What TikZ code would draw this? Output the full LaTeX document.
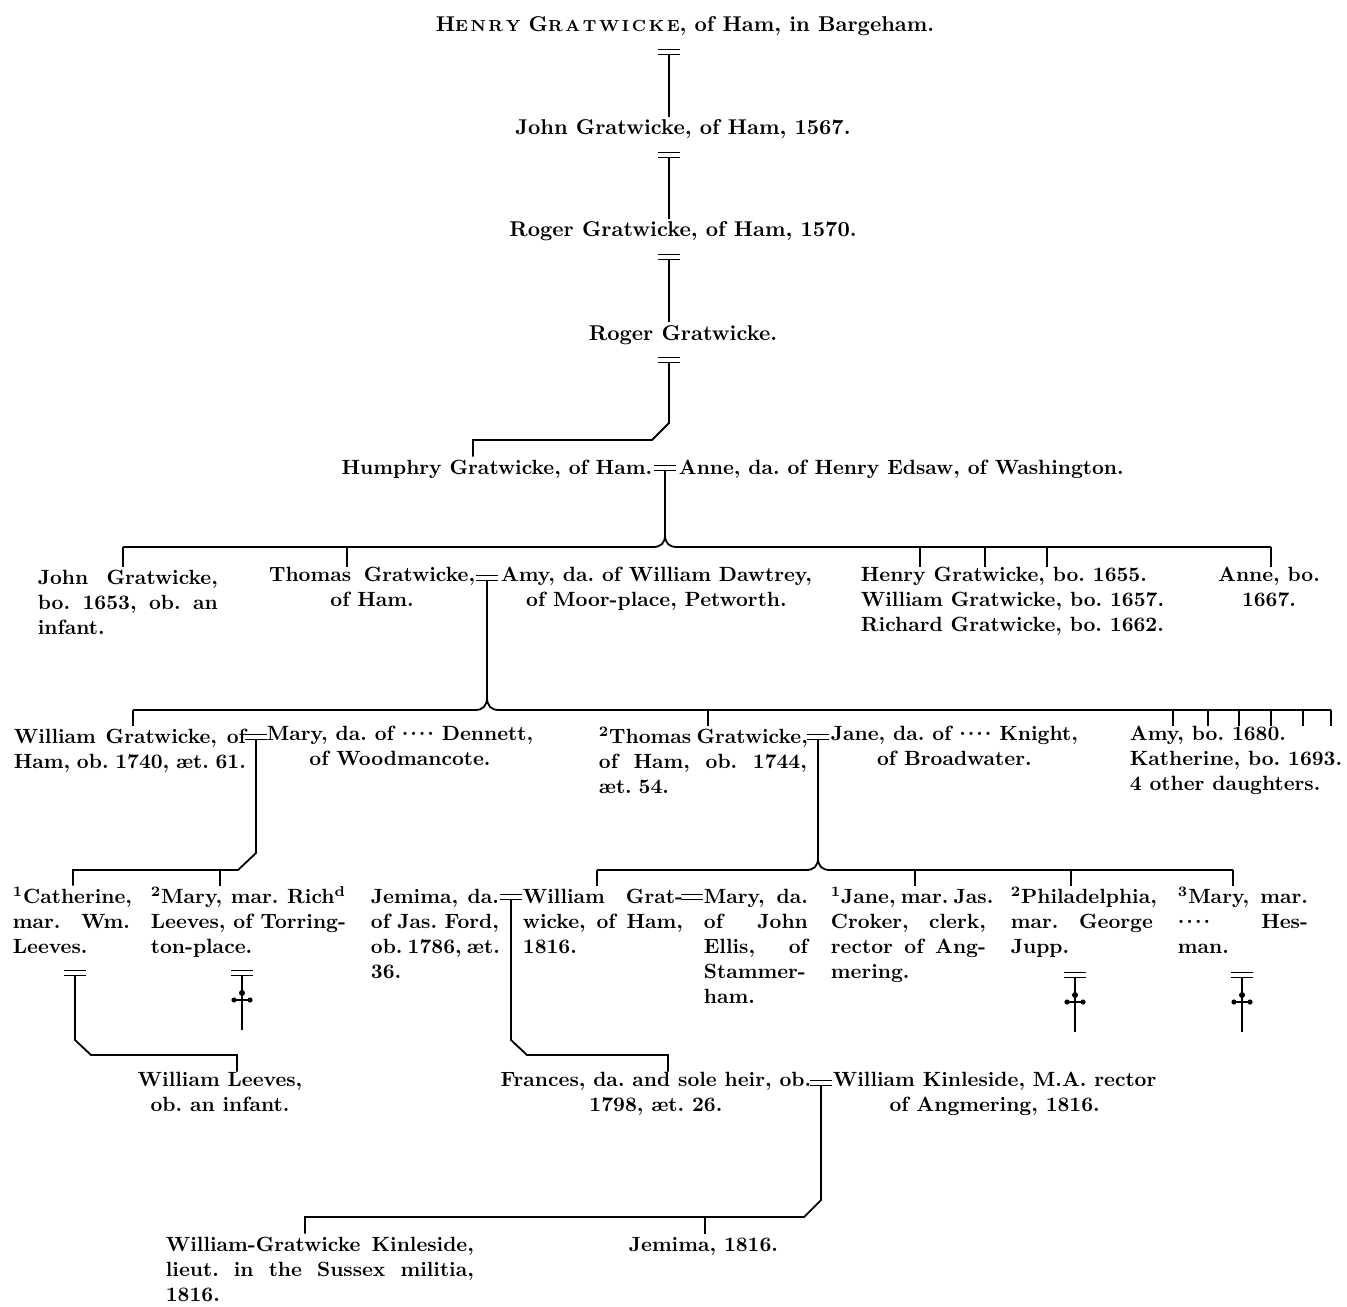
\documentclass[tikz,border=0pt]{standalone}
\usepackage{tikz}
\usetikzlibrary{calc}
\newcommand\gfont{\fontsize{10.3}{12.5}\selectfont\bfseries}
\newcommand\gfontb{\fontsize{10.7}{12.5}\selectfont\bfseries}
\newcommand\dts{\raisebox{.25em}{.\kern1pt.\kern1pt.\kern1pt.}}
\newcommand\jline[1]{\leavevmode\hbox to\hsize{\spaceskip=0pt\xspaceskip=0pt #1}}
\hyphenpenalty=10000
\exhyphenpenalty=10000

\begin{document}
\frenchspacing
\begin{tikzpicture}[
        x=0.5pt, y=-0.5pt,
        line width=0.9pt,
        who/.style = {font=\gfont, inner sep=0pt, execute at begin node=\strut},
        one/.style = {who, font=\gfontb, anchor=north},
        col/.style = {who, anchor=north west, align=left, text width=#1},
        wed/.pic = {\draw[line width=0.8pt] (-11,-2.5) -- (11,-2.5) (-11,2.5) -- (11,2.5);},
        obit/.pic = {\draw (0,2.5) -- (0,57);
                     \draw (-8,27) -- (8,27);
                     \fill (-8,27) circle (1.3pt) (8,27) circle (1.3pt) (0,20) circle (1.5pt);}
    ]
        \useasboundingbox (0,0) rectangle (1347,1306);

        % line of Ham
        \node (henry) [one] at (685,13.5) {H{\footnotesize E\,N\,R\,Y} G{\footnotesize R\,A\,T\,W\,I\,C\,K\,E}, of Ham, in Bargeham.};
        \node (john) [one] at (683,116.5) {John Gratwicke, of Ham, 1567.};
        \node (roger) [one] at (683,218.5) {Roger Gratwicke, of Ham, 1570.};
        \node (rogerb) [one] at (683,322) {Roger Gratwicke.};
        \node (humphry) [who, anchor=north east] at (653,456.5) {Humphry Gratwicke, of Ham.};
        \node (anne) [who, anchor=north west] at (678,456.5) {Anne, da. of Henry Edsaw, of Washington.};

        \coordinate (m0) at (669,52);
        \coordinate (m1) at (669,155);
        \coordinate (m2) at (669,257);
        \coordinate (m3) at (669,360);
        \coordinate (m4) at (665,468);
        \pic at (m0) {wed};
        \pic at (m1) {wed};
        \pic at (m2) {wed};
        \pic at (m3) {wed};
        \pic at (m4) {wed};

        \draw (m0) ++(0,2.5) -- (m0 |- john.north);
        \draw (m1) ++(0,2.5) -- (m1 |- roger.north);
        \draw (m2) ++(0,2.5) -- (m2 |- rogerb.north);
        \draw (m3) ++(0,2.5) -- (669,423) -- (652,440) -- (473,440) -- (473,440 |- humphry.north);

        % children of Humphry
        \node (johnb) [col=90pt] at (37,566.5) {\jline{John Gratwicke,}\\\jline{bo. 1653, ob. an}\\infant.};
        \node (thomas) [who, anchor=north east, align=center] at (476,566.5) {\hbox to 103pt{\spaceskip=0pt Thomas Gratwicke,}\\of Ham.};
        \node (amy) [who, anchor=north west, align=center] at (500,566.5) {Amy, da. of William Dawtrey,\\of Moor-place, Petworth.};
        \node (henryb) [who, anchor=north west, align=left] at (860,566.5) {Henry Gratwicke, bo. 1655.\\William Gratwicke, bo. 1657.\\Richard Gratwicke, bo. 1662.};
        \node (anneb) [who, anchor=north, align=center] at (1269,566.5) {Anne, bo.\\1667.};

        \draw (m4) ++(0,2.5) -- (665,535);
        \draw (123,547) -- (653,547) .. controls (661,547) and (665,543) .. (665,535)
              .. controls (665,543) and (669,547) .. (677,547) -- (1271,547);
        \draw (123,547) -- (123,547 |- johnb.north);
        \draw (347,547) -- (347,547 |- thomas.north);
        \draw (920,547) -- (920,547 |- henryb.north);
        \draw (985,547) -- (985,547 |- henryb.north);
        \draw (1047,547) -- (1047,547 |- henryb.north);
        \draw (1271,547) -- (1271,547 |- anneb.north);

        \coordinate (m5) at (487,578);
        \pic at (m5) {wed};

        % children of Thomas
        \node (williamb) [col=116pt] at (13,725.5) {\jline{William Gratwicke, of}\\\jline{Ham, ob. 1740, æt. 61.}};
        \node (maryb) [who, anchor=north west, align=center] at (266,725.5) {Mary, da. of \dts{} Dennett,\\of Woodmancote.};
        \node (thomasb) [col=104pt] at (598,725.5) {\jline{\textsuperscript{2}Thomas Gratwicke,}\\\jline{of Ham, ob. 1744,}\\æt. 54.};
        \node (jane) [who, anchor=north west, align=center] at (830,725.5) {Jane, da. of \dts{} Knight,\\of Broadwater.};
        \node (amyb) [who, anchor=north east, align=left] at (1343,725.5) {Amy, bo. 1680.\\Katherine, bo. 1693.\\4 other daughters.};

        \draw (m5) ++(0,2.5) -- (487,697);
        \draw (133,710) -- (475,710) .. controls (483,710) and (487,706) .. (487,697)
              .. controls (487,706) and (491,710) .. (499,710) -- (1331,710);
        \draw (133,710) -- (133,710 |- williamb.north);
        \draw (708,710) -- (708,710 |- thomasb.north);
        \foreach \x in {1173,1208,1239,1271,1303,1331}
            \draw (\x,710) -- (\x,710 |- amyb.north);

        \coordinate (m6a) at (256,737);
        \coordinate (m6b) at (818,737);
        \pic at (m6a) {wed};
        \pic at (m6b) {wed};

        % grandchildren
        \node (catherine) [col=58.5pt] at (12,885.5) {\jline{\textsuperscript{1}Catherine,}\\\jline{mar. Wm.}\\Leeves.};
        \node (maryc) [col=97.5pt] at (150,885.5) {\jline{\textsuperscript{2}Mary, mar. Rich\textsuperscript{d}}\\\jline{Leeves, of Torring-}\\ton-place.};
        \node (jemima) [col=64pt] at (370,885.5) {\jline{Jemima, da.}\\\jline{of Jas. Ford,}\\\jline{ob. 1786, æt.}\\36.};
        \node (williamc) [col=80pt] at (522,885.5) {\jline{William Grat-}\\\jline{wicke, of Ham,}\\1816.};
        \node (maryd) [col=52pt] at (703,885.5) {\jline{Mary, da.}\\\jline{of John}\\\jline{Ellis, of}\\\jline{Stammer-}\\ham.};
        \node (janeb) [col=77.5pt] at (830,885.5) {\jline{\textsuperscript{1}Jane, mar. Jas.}\\\jline{Croker, clerk,}\\\jline{rector of Ang-}\\mering.};
        \node (phil) [col=71pt] at (1010,885.5) {\jline{\textsuperscript{2}Philadelphia,}\\\jline{mar. George}\\Jupp.};
        \node (marye) [col=65pt] at (1177,885.5) {\jline{\textsuperscript{3}Mary, mar.}\\\jline{\dts{} Hes-}\\man.};

        \draw (m6a) ++(0,2.5) -- (256,853) -- (238,870) -- (73,870) -- (73,870 |- catherine.north);
        \draw (220,870) -- (220,870 |- maryc.north);

        \draw (m6b) ++(0,2.5) -- (818,858);
        \draw (597,870) -- (806,870) .. controls (814,870) and (818,866) .. (818,858)
              .. controls (818,866) and (822,870) .. (830,870) -- (1233,870);
        \draw (597,870) -- (597,870 |- williamc.north);
        \draw (915,870) -- (915,870 |- janeb.north);
        \draw (1071,870) -- (1071,870 |- phil.north);
        \draw (1233,870) -- (1233,870 |- marye.north);

        \coordinate (m7a) at (75,973);
        \coordinate (m7b) at (511,897);
        \coordinate (m7c) at (692,897);
        \coordinate (m7d) at (242,973);
        \coordinate (m7e) at (1075,975);
        \coordinate (m7f) at (1242,975);
        \foreach \m in {m7a,m7b,m7c,m7d,m7e,m7f}
            \pic at (\m) {wed};
        \foreach \m in {m7d,m7e,m7f}
            \pic at (\m) {obit};

        % great-grandchildren
        \node (wleeves) [who, anchor=north, align=center] at (220,1071.5) {William Leeves,\\ob. an infant.};
        \node (frances) [who, anchor=north east, align=center] at (812,1071.5) {Frances, da. and sole heir, ob.\\1798, æt. 26.};
        \node (kinleside) [who, anchor=north west, align=center] at (832,1071.5) {William Kinleside, M.A. rector\\of Angmering, 1816.};

        \draw (m7a) ++(0,2.5) -- (75,1040) -- (91,1055) -- (237,1055) -- (237,1055 |- wleeves.north);
        \draw (m7b) ++(0,2.5) -- (511,1040) -- (527,1055) -- (668,1055) -- (668,1055 |- frances.north);

        \coordinate (m8) at (821,1083);
        \pic at (m8) {wed};

        \node (wgk) [col=154pt] at (165,1233.5) {\jline{William-Gratwicke Kinleside,}\\\jline{lieut. in the Sussex militia,}\\1816.};
        \node (jemimab) [who, anchor=north west] at (628,1233.5) {Jemima, 1816.};

        \draw (m8) ++(0,2.5) -- (821,1200) -- (804,1217) -- (305,1217) -- (305,1217 |- wgk.north);
        \draw (705,1217) -- (705,1217 |- jemimab.north);

    \end{tikzpicture}
\end{document}
